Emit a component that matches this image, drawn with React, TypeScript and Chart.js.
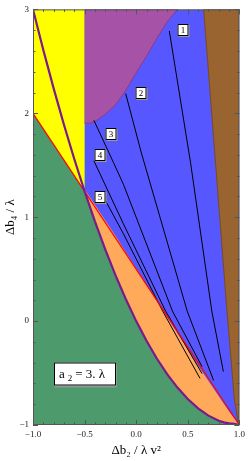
import React, { useEffect, useRef } from 'react';
import { Chart, registerables } from 'chart.js';

Chart.register(...registerables);

// ---------- axis ticks ----------
const xMajorTicks = [-1, -0.5, 0, 0.5, 1];
const xTickLabels = ['−1.0', '−0.5', '0.0', '0.5', '1.0'];
const yMajorTicks = [-1, 0, 1, 2, 3];
const yTickLabels = ['−1', '0', '1', '2', '3'];
const xMinorTicks = [-0.9, -0.8, -0.7, -0.6, -0.4, -0.3, -0.2, -0.1, 0.1, 0.2, 0.3, 0.4, 0.6, 0.7, 0.8, 0.9];
const yMinorTicks = [-0.8, -0.6, -0.4, -0.2, 0.2, 0.4, 0.6, 0.8, 1.2, 1.4, 1.6, 1.8, 2.2, 2.4, 2.6, 2.8];
const xTitle = 'Δb₂ / λ v²';
const yTitle = 'Δb₄ / λ';

// ---------- region boundaries ----------
const frameX = [-1, 1, 1, -1];
const frameY = [-1, -1, 3, 3];

const purpleX = [-1, -0.9, -0.8, -0.7, -0.6, -0.5, -0.4, -0.3, -0.2, -0.1, 0, 0.1, 0.2, 0.3, 0.4, 0.5, 0.6, 0.7, 0.8, 0.85, 0.9, 0.95, 1];
const purpleY = [3, 2.61, 2.24, 1.89, 1.56, 1.25, 0.96, 0.69, 0.44, 0.21, 0, -0.19, -0.36, -0.51, -0.64, -0.75, -0.84, -0.91, -0.96, -0.975, -0.985, -0.99, -1];

const redX = [-1, 1];
const redY = [2, -1];

const yellowX = [-1, -0.5, -0.5, -1];
const yellowY = [3, 3, 1.25, 2];

const magentaEdgeX = [-0.5, -0.45, -0.4, -0.3, -0.2, -0.1, 0, 0.1, 0.2, 0.3, 0.4];
const magentaEdgeY = [1.905, 1.905, 1.92, 1.99, 2.08, 2.22, 2.39, 2.55, 2.72, 2.88, 3.0];

const brownEdgeX = [1, 0.985, 0.952, 0.876, 0.765, 0.654];
const brownEdgeY = [-1, -0.95, -0.762, 0.143, 1.571, 3];

const orangeEdgeX = [1, 0.9, 0.6, 0.2, -0.2, -0.5];
const orangeEdgeY = [-1, -0.87, -0.43, 0.19, 0.82, 1.27];

// ---------- contour lines ----------
const contour1X = [0.321, 0.527, 0.733, 0.845];
const contour1Y = [2.793, 1.524, 0.095, -0.486];
const contour2X = [-0.102, 0.05, 0.495, 0.75];
const contour2Y = [2.19, 1.619, 0.095, -0.571];
const contour3X = [-0.41, -0.219, -0.124, 0.352, 0.638];
const contour3Y = [1.933, 1.524, 1.317, 0.095, -0.438];
const contour4X = [-0.41, -0.124, 0.286, 0.638];
const contour4Y = [1.543, 0.936, 0.095, -0.505];
const contour5X = [-0.314, -0.124, 0.257, 0.619];
const contour5Y = [1.19, 0.841, 0.095, -0.552];

const contourLabels = ['1', '2', '3', '4', '5'];
const contourLabelX = [0.45, 0.05, -0.248, -0.35, -0.346];
const contourLabelY = [2.802, 2.198, 1.797, 1.6, 1.193];

const noteX = -0.495;
const noteY = -0.505;

const SERIF = '"Liberation Serif", "DejaVu Serif", "Times New Roman", serif';

const zip = (xs: number[], ys: number[]) => xs.map((x, i) => ({ x, y: ys[i] }));

function App() {
  const ref = useRef<HTMLCanvasElement | null>(null);

  useEffect(() => {
    const purple = zip(purpleX, purpleY);
    const purpleRight = purple.filter((p) => p.x >= -0.5);

    const poly = (data: any[], color: string, order: number, border = 0, borderColor = 'rgba(0,0,0,0)') => ({
      data,
      showLine: true,
      fill: 'shape',
      backgroundColor: color,
      borderColor,
      borderWidth: border,
      pointRadius: 0,
      order,
    });
    const line = (data: any[], color: string, width: number, order: number) => ({
      data,
      showLine: true,
      fill: false,
      borderColor: color,
      borderWidth: width,
      pointRadius: 0,
      order,
    });

    const datasets: any[] = [
      poly(zip(frameX, frameY), '#4d9a6c', 100),
      poly([{ x: -0.5, y: 3 }, { x: 1, y: 3 }, ...[...purpleRight].reverse()], '#5757ff', 90),
      poly([...purpleRight, ...zip(orangeEdgeX, orangeEdgeY)], '#ffaa5a', 80),
      poly(zip(yellowX, yellowY), '#ffff00', 70),
      poly([...zip(magentaEdgeX, magentaEdgeY), { x: -0.5, y: 3 }], '#a652a6', 60, 1, '#8a3a8a'),
      poly([...zip(brownEdgeX, brownEdgeY), { x: 1, y: 3 }], '#9a6431', 50, 1, '#7a4a20'),
      line(zip(contour1X, contour1Y), '#000000', 1, 30),
      line(zip(contour2X, contour2Y), '#000000', 1, 30),
      line(zip(contour3X, contour3Y), '#000000', 1, 30),
      line(zip(contour4X, contour4Y), '#000000', 1, 30),
      line(zip(contour5X, contour5Y), '#000000', 1, 30),
      line(zip(redX, redY), '#ff0000', 1.2, 20),
      line(purple, '#7a1a8c', 2.2, 10),
    ];

    const overlay = {
      id: 'overlay',
      afterDatasetsDraw(chart: any) {
        const { ctx, chartArea: a, scales } = chart;
        const xs = scales.x;
        const ys = scales.y;
        ctx.save();
        // contour labels
        ctx.font = `9px ${SERIF}`;
        ctx.textAlign = 'center';
        ctx.textBaseline = 'middle';
        contourLabels.forEach((t, i) => {
          const px = Math.round(xs.getPixelForValue(contourLabelX[i]));
          const py = Math.round(ys.getPixelForValue(contourLabelY[i]));
          const w = 11;
          const h = 12;
          ctx.fillStyle = '#9a9a9a';
          ctx.fillRect(px - w / 2 + 1, py - h / 2 + 1, w, h);
          ctx.fillStyle = '#ffffff';
          ctx.fillRect(px - w / 2, py - h / 2, w, h);
          ctx.strokeStyle = '#000';
          ctx.lineWidth = 1;
          ctx.strokeRect(px - w / 2 + 0.5, py - h / 2 + 0.5, w - 1, h - 1);
          ctx.fillStyle = '#000';
          ctx.fillText(t, px, py + 0.5);
        });
        // note box
        {
          const cx = Math.round(xs.getPixelForValue(noteX));
          const cy = Math.round(ys.getPixelForValue(noteY));
          const w = 62;
          const h = 23;
          const l = cx - w / 2;
          const t = cy - h / 2;
          ctx.fillStyle = '#8a9a90';
          ctx.fillRect(l + 1, t + 2, w, h);
          ctx.fillStyle = '#ffffff';
          ctx.fillRect(l, t, w, h);
          ctx.strokeStyle = '#000';
          ctx.lineWidth = 1;
          ctx.strokeRect(l + 0.5, t + 0.5, w - 1, h - 1);
          ctx.fillStyle = '#000';
          ctx.textAlign = 'left';
          ctx.textBaseline = 'alphabetic';
          const base = cy + 4;
          let x = l + 5;
          ctx.font = `13px ${SERIF}`;
          ctx.fillText('a', x, base);
          x += ctx.measureText('a').width + 3;
          ctx.font = `9px ${SERIF}`;
          ctx.fillText('2', x, base + 3);
          x += ctx.measureText('2').width + 3;
          ctx.font = `13px ${SERIF}`;
          ctx.fillText('= 3. λ', x, base);
        }
        // frame
        ctx.strokeStyle = '#555';
        ctx.lineWidth = 1;
        ctx.strokeRect(a.left + 0.5, a.top + 0.5, a.right - a.left - 1, a.bottom - a.top - 1);
        // ticks
        ctx.beginPath();
        const xt = (v: number, len: number) => {
          const p = Math.round(xs.getPixelForValue(v)) + 0.5;
          ctx.moveTo(p, a.bottom);
          ctx.lineTo(p, a.bottom - len);
          ctx.moveTo(p, a.top);
          ctx.lineTo(p, a.top + len);
        };
        const yt = (v: number, len: number) => {
          const p = Math.round(ys.getPixelForValue(v)) + 0.5;
          ctx.moveTo(a.left, p);
          ctx.lineTo(a.left + len, p);
          ctx.moveTo(a.right, p);
          ctx.lineTo(a.right - len, p);
        };
        xMajorTicks.forEach((v) => xt(v, 5));
        xMinorTicks.forEach((v) => xt(v, 2.5));
        yMajorTicks.forEach((v) => yt(v, 5));
        yMinorTicks.forEach((v) => yt(v, 2.5));
        ctx.stroke();
        ctx.restore();
      },
    };

    const chart = new Chart(ref.current as HTMLCanvasElement, {
      type: 'scatter',
      data: { datasets },
      options: {
        responsive: false,
        animation: false,
        events: [],
        layout: { padding: { top: 5, right: 6, left: 0, bottom: 0 } },
        plugins: {
          legend: { display: false },
          tooltip: { enabled: false },
        },
        scales: {
          x: {
            type: 'linear',
            min: -1,
            max: 1,
            afterBuildTicks: (s: any) => {
              s.ticks = xMajorTicks.map((v) => ({ value: v }));
            },
            afterFit: (s: any) => {
              s.height = 36;
            },
            ticks: {
              autoSkip: false,
              maxRotation: 0,
              padding: 4,
              color: '#222',
              font: { family: SERIF, size: 9 },
              callback: (v: any) => xTickLabels[xMajorTicks.indexOf(Number(v))],
            },
            grid: { display: false, drawTicks: false },
            border: { display: false },
            title: {
              display: true,
              text: xTitle,
              color: '#000',
              font: { family: SERIF, size: 13 },
              padding: { top: 0, bottom: 3 },
            },
          },
          y: {
            type: 'linear',
            min: -1,
            max: 3,
            afterBuildTicks: (s: any) => {
              s.ticks = yMajorTicks.map((v) => ({ value: v }));
            },
            afterFit: (s: any) => {
              s.width = 33;
            },
            ticks: {
              autoSkip: false,
              padding: 4,
              color: '#222',
              font: { family: SERIF, size: 9 },
              callback: (v: any) => yTickLabels[yMajorTicks.indexOf(Number(v))],
            },
            grid: { display: false, drawTicks: false },
            border: { display: false },
            title: {
              display: true,
              text: yTitle,
              color: '#000',
              font: { family: SERIF, size: 13 },
              padding: { top: 3, bottom: 0 },
            },
          },
        },
      } as any,
      plugins: [overlay],
    });
    return () => chart.destroy();
  }, []);

  return (
    <div style={{ position: 'absolute', left: 0, top: 0, width: 249, height: 461, background: '#fff' }}>
      <canvas ref={ref} width={249} height={461} style={{ display: 'block' }} />
    </div>
  );
}

export default App;
